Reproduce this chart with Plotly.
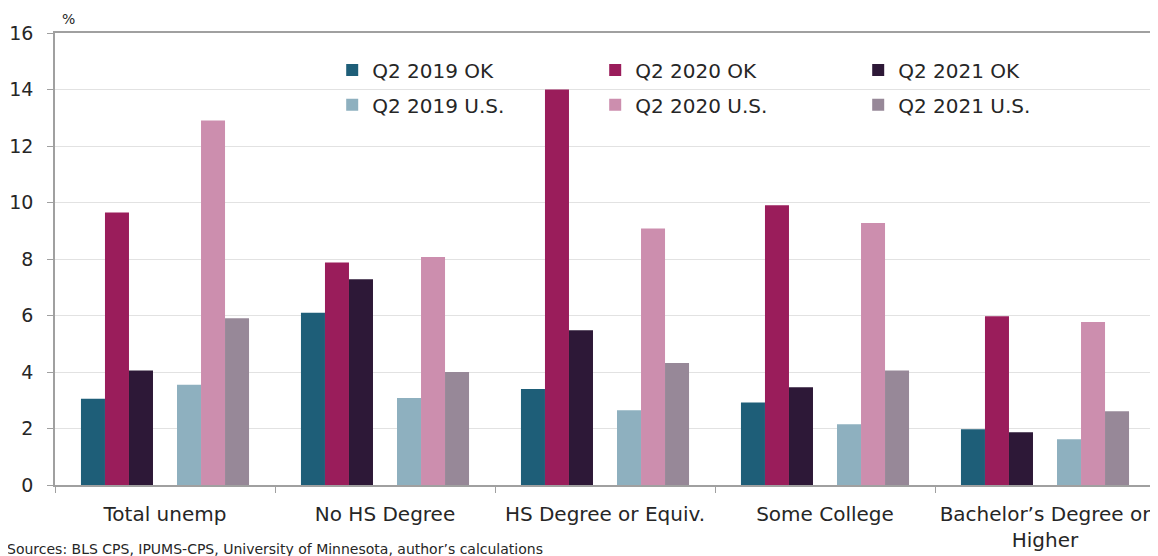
import plotly.graph_objects as go

categories = ["Total unemp", "No HS Degree", "HS Degree or Equiv.", "Some College",
              "Bachelor\u2019s Degree or<br>Higher"]

ok_2019 = [3.05, 6.1, 3.4, 2.92, 1.97]
ok_2020 = [9.65, 7.88, 14.0, 9.9, 5.97]
ok_2021 = [4.05, 7.28, 5.48, 3.46, 1.87]
us_2019 = [3.55, 3.08, 2.65, 2.15, 1.62]
us_2020 = [12.9, 8.07, 9.08, 9.27, 5.77]
us_2021 = [5.9, 4.0, 4.32, 4.05, 2.61]

y_ticks = [0, 2, 4, 6, 8, 10, 12, 14, 16]

source_text = "Sources: BLS CPS, IPUMS-CPS, University of Minnesota, author\u2019s calculations"

FONT = "DejaVu Sans"
TEXT = "#262626"
AXIS = "#A0A0A0"

# name, values, colour, legend row
series = [
    ("Q2 2019 OK", ok_2019, "#1E5E78", "legend"),
    ("Q2 2020 OK", ok_2020, "#9A1D5B", "legend"),
    ("Q2 2021 OK", ok_2021, "#2D1837", "legend"),
    (None, None, None, None),  # empty slot between OK and U.S. groups
    ("Q2 2019 U.S.", us_2019, "#8EB0BF", "legend2"),
    ("Q2 2020 U.S.", us_2020, "#CC8EAE", "legend2"),
    ("Q2 2021 U.S.", us_2021, "#978898", "legend2"),
]

fig = go.Figure()
for name, vals, color, leg in series:
    if name is None:
        fig.add_trace(go.Bar(x=categories, y=[None] * len(categories),
                             showlegend=False, hoverinfo="skip"))
        continue
    fig.add_trace(go.Bar(
        x=categories, y=vals, name=name, legend=leg,
        marker=dict(color=color, line=dict(width=0)),
    ))

legend_style = dict(
    orientation="h", x=0.252, xanchor="left", yanchor="middle",
    entrywidth=218, entrywidthmode="pixels",
    font=dict(size=20, color=TEXT), bgcolor="rgba(0,0,0,0)",
)

# page body has an 8px margin, so the figure is drawn 8px smaller and offset
fig.update_layout(
    width=1150, height=548,
    paper_bgcolor="white", plot_bgcolor="white",
    font=dict(family=FONT, color=TEXT, size=19),
    margin=dict(l=47, r=3, t=25, b=71),
    barmode="group", bargap=0.236, bargroupgap=0,
    legend=dict(y=0.918, **legend_style),
    legend2=dict(y=0.841, **legend_style),
    showlegend=True,
)

fig.update_xaxes(
    automargin=False, tickangle=0,
    showline=True, linecolor=AXIS, linewidth=1.5, mirror=True,
    ticks="outside", tickson="boundaries", ticklen=6, tickcolor=AXIS,
    ticklabelstandoff=10,
    tickfont=dict(size=20, color=TEXT), showgrid=False,
)
fig.update_yaxes(
    automargin=False,
    range=[0, 16], tickvals=y_ticks,
    showline=True, linecolor=AXIS, linewidth=1.5, mirror=True,
    ticks="outside", ticklen=6, tickcolor=AXIS,
    ticklabelstandoff=10,
    showgrid=True, gridcolor="#E2E2E2", gridwidth=1,
    tickfont=dict(size=19, color=TEXT), zeroline=False,
)

fig.add_annotation(text="%", xref="paper", yref="paper", x=0.0, y=1.0,
                   xanchor="left", yanchor="bottom", xshift=5, yshift=4,
                   showarrow=False, font=dict(size=14, color=TEXT))
fig.add_annotation(text=source_text, xref="paper", yref="paper", x=0, y=0,
                   xanchor="left", yanchor="top", xshift=-50, yshift=-54,
                   showarrow=False, font=dict(size=14, color=TEXT))

fig.write_html("out.html")
